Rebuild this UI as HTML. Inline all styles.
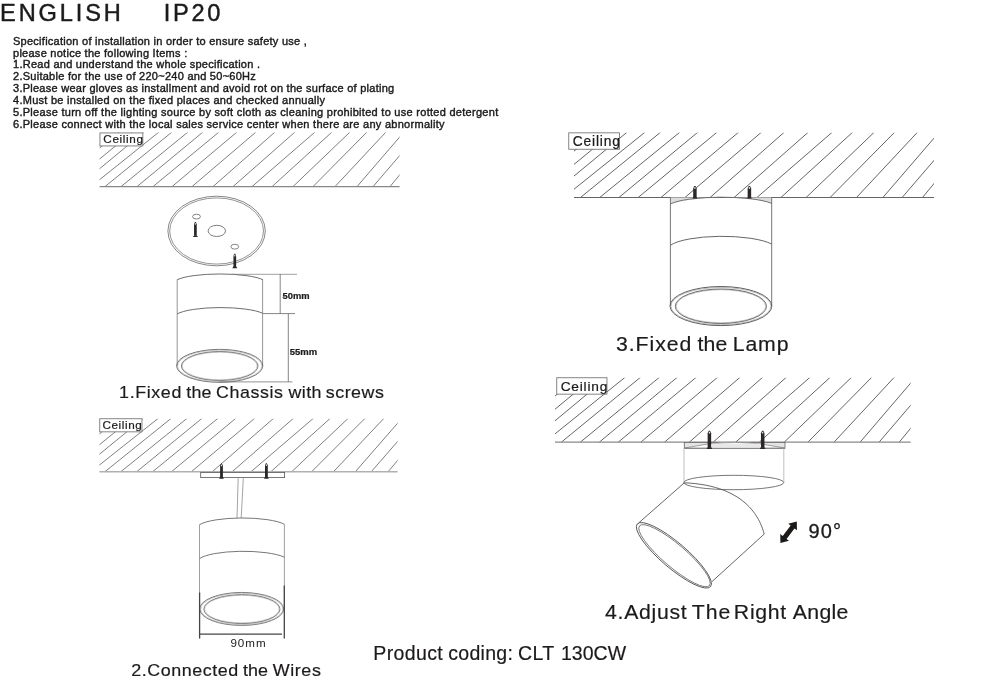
<!DOCTYPE html>
<html><head><meta charset="utf-8"><title>Installation</title>
<style>
html,body{margin:0;padding:0;background:#fff;}
body{width:1000px;height:690px;overflow:hidden;}
svg{display:block;font-family:"Liberation Sans",sans-serif;filter:blur(0.3px);}
svg text{white-space:pre;}
</style></head><body>
<svg width="1000" height="690" viewBox="0 0 1000 690">
<rect width="1000" height="690" fill="#fff"/>
<text x="0.1" y="21.3" font-size="23.6" font-weight="400" fill="#1c1a1a" textLength="120.7" lengthAdjust="spacing" stroke="#1c1a1a" stroke-width="0.45">ENGLISH</text>
<text x="163.8" y="21.4" font-size="23.6" font-weight="400" fill="#1c1a1a" textLength="56.5" lengthAdjust="spacing" stroke="#1c1a1a" stroke-width="0.45">IP20</text>
<text x="13" y="44.6" font-size="11" font-weight="400" fill="#1c1a1a" textLength="293.8" lengthAdjust="spacing" stroke="#1c1a1a" stroke-width="0.4">Specification of installation in order to ensure safety use ,</text>
<text x="13" y="56.5" font-size="11" font-weight="400" fill="#1c1a1a" textLength="174.2" lengthAdjust="spacing" stroke="#1c1a1a" stroke-width="0.4">please notice the following Items :</text>
<text x="13" y="68.4" font-size="11" font-weight="400" fill="#1c1a1a" textLength="247" lengthAdjust="spacing" stroke="#1c1a1a" stroke-width="0.4">1.Read and understand the whole specification .</text>
<text x="13" y="80.3" font-size="11" font-weight="400" fill="#1c1a1a" textLength="242.8" lengthAdjust="spacing" stroke="#1c1a1a" stroke-width="0.4">2.Suitable for the use of 220~240 and 50~60Hz</text>
<text x="13" y="92.2" font-size="11" font-weight="400" fill="#1c1a1a" textLength="381.2" lengthAdjust="spacing" stroke="#1c1a1a" stroke-width="0.4">3.Please wear gloves as installment and avoid rot on the surface of plating</text>
<text x="13" y="104.2" font-size="11" font-weight="400" fill="#1c1a1a" textLength="312" lengthAdjust="spacing" stroke="#1c1a1a" stroke-width="0.4">4.Must be installed on the fixed places and checked annually</text>
<text x="13" y="116.2" font-size="11" font-weight="400" fill="#1c1a1a" textLength="485.2" lengthAdjust="spacing" stroke="#1c1a1a" stroke-width="0.4">5.Please turn off the lighting source by soft cloth as cleaning prohibited to use rotted detergent</text>
<text x="13" y="128.2" font-size="11" font-weight="400" fill="#1c1a1a" textLength="431.6" lengthAdjust="spacing" stroke="#1c1a1a" stroke-width="0.4">6.Please connect with the local sales service center when there are any abnormality</text>
<clipPath id="c1"><rect x="0" y="0.6" width="300" height="54.6"/></clipPath>
<g transform="translate(99.6 132) scale(1.0 1.0)">
<path d="M-47.1 54.6L19.5 0 M-33.6 54.6L32.9 0 M-21.6 54.6L44.4 0 M-8.6 54.6L59.4 0 M5.4 54.6L72.4 0 M21.4 54.6L88.4 0 M37.4 54.6L103.4 0 M53.4 54.6L119.4 0 M72.4 54.6L137.4 0 M92.4 54.6L156.4 0 M113.4 54.6L175.4 0 M133.4 54.6L195.4 0 M152.4 54.6L215.4 0 M172.4 54.6L232.4 0 M193.4 54.6L250.4 0 M213.4 54.6L267.4 0 M235.4 54.6L286.4 0 M257.4 54.6L304.4 0 M273.4 54.6L320.4 0 M290.4 54.6L335.4 0" clip-path="url(#c1)" stroke="#5e5e5e" stroke-width="0.8" fill="none"/>
</g>
<line x1="99.6" y1="186.6" x2="399.6" y2="186.6" stroke="#888" stroke-width="1.3"/>
<rect x="99.95" y="132.95" width="42.9" height="13.0" fill="#fff" stroke="#707070" stroke-width="0.85"/>
<text x="103.3" y="142.9" font-size="11.7" font-weight="400" fill="#1c1a1a" textLength="39.6" lengthAdjust="spacing" stroke="#1c1a1a" stroke-width="0.22">Ceiling</text>
<clipPath id="c2"><rect x="0" y="0.6" width="300" height="54.6"/></clipPath>
<g transform="translate(99.4 418.2) scale(0.994 0.982)">
<path d="M-47.1 54.6L19.5 0 M-33.6 54.6L32.9 0 M-21.6 54.6L44.4 0 M-8.6 54.6L59.4 0 M5.4 54.6L72.4 0 M21.4 54.6L88.4 0 M37.4 54.6L103.4 0 M53.4 54.6L119.4 0 M72.4 54.6L137.4 0 M92.4 54.6L156.4 0 M113.4 54.6L175.4 0 M133.4 54.6L195.4 0 M152.4 54.6L215.4 0 M172.4 54.6L232.4 0 M193.4 54.6L250.4 0 M213.4 54.6L267.4 0 M235.4 54.6L286.4 0 M257.4 54.6L304.4 0 M273.4 54.6L320.4 0 M290.4 54.6L335.4 0" clip-path="url(#c2)" stroke="#5e5e5e" stroke-width="0.8" fill="none"/>
</g>
<line x1="99.4" y1="471.8172" x2="397.6" y2="471.8172" stroke="#b0b0b0" stroke-width="1.5"/>
<rect x="99.75" y="418.75" width="42.2" height="13.1" fill="#fff" stroke="#707070" stroke-width="0.85"/>
<text x="102.4" y="428.7" font-size="11.7" font-weight="400" fill="#1c1a1a" textLength="39.4" lengthAdjust="spacing" stroke="#1c1a1a" stroke-width="0.22">Ceiling</text>
<clipPath id="c3"><rect x="0" y="0.6" width="300" height="54.6"/></clipPath>
<g transform="translate(574 132) scale(1.2 1.2)">
<path d="M-47.1 54.6L19.5 0 M-33.6 54.6L32.9 0 M-21.6 54.6L44.4 0 M-8.6 54.6L59.4 0 M5.4 54.6L72.4 0 M21.4 54.6L88.4 0 M37.4 54.6L103.4 0 M53.4 54.6L119.4 0 M72.4 54.6L137.4 0 M92.4 54.6L156.4 0 M113.4 54.6L175.4 0 M133.4 54.6L195.4 0 M152.4 54.6L215.4 0 M172.4 54.6L232.4 0 M193.4 54.6L250.4 0 M213.4 54.6L267.4 0 M235.4 54.6L286.4 0 M257.4 54.6L304.4 0 M273.4 54.6L320.4 0 M290.4 54.6L335.4 0" clip-path="url(#c3)" stroke="#4c4c4c" stroke-width="0.72" fill="none"/>
</g>
<line x1="574" y1="197.51999999999998" x2="934.0" y2="197.51999999999998" stroke="#666" stroke-width="1.1"/>
<rect x="568.75" y="132.85" width="50.7" height="16.4" fill="#fff" stroke="#707070" stroke-width="0.85"/>
<text x="572.7" y="145.5" font-size="13.8" font-weight="400" fill="#1c1a1a" textLength="47.2" lengthAdjust="spacing" stroke="#1c1a1a" stroke-width="0.22">Ceiling</text>
<clipPath id="c4"><rect x="0" y="0.6" width="300" height="54.6"/></clipPath>
<g transform="translate(555 377) scale(1.1855 1.193)">
<path d="M-47.1 54.6L19.5 0 M-33.6 54.6L32.9 0 M-21.6 54.6L44.4 0 M-8.6 54.6L59.4 0 M5.4 54.6L72.4 0 M21.4 54.6L88.4 0 M37.4 54.6L103.4 0 M53.4 54.6L119.4 0 M72.4 54.6L137.4 0 M92.4 54.6L156.4 0 M113.4 54.6L175.4 0 M133.4 54.6L195.4 0 M152.4 54.6L215.4 0 M172.4 54.6L232.4 0 M193.4 54.6L250.4 0 M213.4 54.6L267.4 0 M235.4 54.6L286.4 0 M257.4 54.6L304.4 0 M273.4 54.6L320.4 0 M290.4 54.6L335.4 0" clip-path="url(#c4)" stroke="#4c4c4c" stroke-width="0.72" fill="none"/>
</g>
<line x1="555" y1="442.13779999999997" x2="910.65" y2="442.13779999999997" stroke="#8a8a8a" stroke-width="1.25"/>
<rect x="556.75" y="377.75" width="50.2" height="16.4" fill="#fff" stroke="#707070" stroke-width="0.85"/>
<text x="560.7" y="390.6" font-size="13.7" font-weight="400" fill="#1c1a1a" textLength="46.6" lengthAdjust="spacing" stroke="#1c1a1a" stroke-width="0.22">Ceiling</text>
<text transform="translate(119.1 398.4) scale(1.05 1)" font-size="17.0" fill="#1c1a1a" stroke="#1c1a1a" stroke-width="0.18" textLength="59.29" lengthAdjust="spacing">1.Fixed</text>
<text transform="translate(186.26 398.4) scale(1.05 1)" font-size="17.0" fill="#1c1a1a" stroke="#1c1a1a" stroke-width="0.18" textLength="24.05" lengthAdjust="spacing">the</text>
<text transform="translate(216.11 398.4) scale(1.05 1)" font-size="17.0" fill="#1c1a1a" stroke="#1c1a1a" stroke-width="0.18" textLength="63.54" lengthAdjust="spacing">Chassis</text>
<text transform="translate(288.46 398.4) scale(1.05 1)" font-size="17.0" fill="#1c1a1a" stroke="#1c1a1a" stroke-width="0.18" textLength="31.51" lengthAdjust="spacing">with</text>
<text transform="translate(325.73 398.4) scale(1.05 1)" font-size="17.0" fill="#1c1a1a" stroke="#1c1a1a" stroke-width="0.18" textLength="55.45" lengthAdjust="spacing">screws</text>
<text transform="translate(131.28 676.1) scale(1.12 1)" font-size="16.0" fill="#1c1a1a" stroke="#1c1a1a" stroke-width="0.18" textLength="95.37" lengthAdjust="spacing">2.Connected</text>
<text transform="translate(243.05 676.1) scale(1.12 1)" font-size="16.0" fill="#1c1a1a" stroke="#1c1a1a" stroke-width="0.18" textLength="22.22" lengthAdjust="spacing">the</text>
<text transform="translate(272.74 676.1) scale(1.12 1)" font-size="16.0" fill="#1c1a1a" stroke="#1c1a1a" stroke-width="0.18" textLength="42.96" lengthAdjust="spacing">Wires</text>
<text transform="translate(615.96 351.0) scale(1.09 1)" font-size="19.5" fill="#1c1a1a" stroke="#1c1a1a" stroke-width="0.18" textLength="69.16" lengthAdjust="spacing">3.Fixed</text>
<text transform="translate(697.56 351.0) scale(1.09 1)" font-size="19.5" fill="#1c1a1a" stroke="#1c1a1a" stroke-width="0.18" textLength="27.29" lengthAdjust="spacing">the</text>
<text transform="translate(732.77 351.0) scale(1.09 1)" font-size="19.5" fill="#1c1a1a" stroke="#1c1a1a" stroke-width="0.18" textLength="51.11" lengthAdjust="spacing">Lamp</text>
<text transform="translate(605.06 619.4) scale(1.09 1)" font-size="19.5" fill="#1c1a1a" stroke="#1c1a1a" stroke-width="0.18" textLength="74.92" lengthAdjust="spacing">4.Adjust</text>
<text transform="translate(691.81 619.4) scale(1.09 1)" font-size="19.5" fill="#1c1a1a" stroke="#1c1a1a" stroke-width="0.18" textLength="35.29" lengthAdjust="spacing">The</text>
<text transform="translate(733.84 619.4) scale(1.09 1)" font-size="19.5" fill="#1c1a1a" stroke="#1c1a1a" stroke-width="0.18" textLength="48.1" lengthAdjust="spacing">Right</text>
<text transform="translate(792.83 619.4) scale(1.09 1)" font-size="19.5" fill="#1c1a1a" stroke="#1c1a1a" stroke-width="0.18" textLength="50.94" lengthAdjust="spacing">Angle</text>
<text transform="translate(373.24 660.2) scale(1.0 1)" font-size="19.5" fill="#1c1a1a" stroke="#1c1a1a" stroke-width="0.18" textLength="69.53" lengthAdjust="spacing">Product</text>
<text transform="translate(448.2 660.2) scale(1.0 1)" font-size="19.5" fill="#1c1a1a" stroke="#1c1a1a" stroke-width="0.18" textLength="64.73" lengthAdjust="spacing">coding:</text>
<text transform="translate(518.11 660.2) scale(1.0 1)" font-size="19.5" fill="#1c1a1a" stroke="#1c1a1a" stroke-width="0.18" textLength="35.99" lengthAdjust="spacing">CLT</text>
<text transform="translate(560.91 660.2) scale(1.0 1)" font-size="19.5" fill="#1c1a1a" stroke="#1c1a1a" stroke-width="0.18" textLength="65.2" lengthAdjust="spacing">130CW</text>
<text x="808.4" y="538.2" font-size="20" font-weight="400" fill="#1c1a1a" textLength="32.6" lengthAdjust="spacing" stroke="#1c1a1a" stroke-width="0.3">90°</text>
<text x="230.4" y="647.4" font-size="11.6" font-weight="400" fill="#1c1a1a" textLength="35.2" lengthAdjust="spacing" >90mm</text>
<text x="282.6" y="299.0" font-size="8.3" font-weight="700" fill="#1c1a1a" textLength="27.0" lengthAdjust="spacingAndGlyphs" stroke="#1c1a1a" stroke-width="0.2">50mm</text>
<text x="289.8" y="355.1" font-size="8.3" font-weight="700" fill="#1c1a1a" textLength="27.4" lengthAdjust="spacingAndGlyphs" stroke="#1c1a1a" stroke-width="0.2">55mm</text>
<ellipse cx="216.6" cy="231" rx="48.7" ry="34.8" fill="none" stroke="#555" stroke-width="0.7"/>
<ellipse cx="216.6" cy="231" rx="46.9" ry="33.1" fill="none" stroke="#666" stroke-width="0.7"/>
<ellipse cx="216.8" cy="230.9" rx="8.7" ry="5.6" fill="none" stroke="#5e5e5e" stroke-width="0.8"/>
<ellipse cx="196.5" cy="216.6" rx="3.9" ry="2.4" fill="none" stroke="#666" stroke-width="0.8"/>
<ellipse cx="234.8" cy="246.7" rx="3.9" ry="2.4" fill="none" stroke="#666" stroke-width="0.8"/>
<path d="M194.05 235.8 L194.05 224.3 L194.91400000000002 221.9 L195.886 221.9 L196.75 224.3 L196.75 235.8 Z" fill="#2b2727"/>
<path d="M194.05 235.4 L192.8 237.0 L198.0 237.0 L196.75 235.4 Z" fill="#2b2727"/>
<ellipse cx="195.4" cy="223.9" rx="0.5599999999999999" ry="0.84" fill="#eee"/>
<path d="M233.45000000000002 267.0 L233.45000000000002 256.09999999999997 L234.31400000000002 253.7 L235.286 253.7 L236.15 256.09999999999997 L236.15 267.0 Z" fill="#2b2727"/>
<path d="M233.45000000000002 266.59999999999997 L232.20000000000002 268.2 L237.4 268.2 L236.15 266.59999999999997 Z" fill="#2b2727"/>
<ellipse cx="234.8" cy="255.7" rx="0.5599999999999999" ry="0.84" fill="#eee"/>
<path d="M177.1 279.8 A46.39 9.35 0 0 1 263 279.8" fill="none" stroke="#5e5e5e" stroke-width="0.9"/>
<path d="M177.1 314 A46.39 9.84 0 0 1 263 313.4" fill="none" stroke="#5e5e5e" stroke-width="0.9"/>
<line x1="177.2" y1="279.8" x2="177.2" y2="366" stroke="#7a7a7a" stroke-width="0.8"/>
<line x1="262.6" y1="279.8" x2="262.6" y2="366" stroke="#7a7a7a" stroke-width="0.8"/>
<ellipse cx="219.7" cy="365.85" rx="43.1" ry="16.5" fill="none" stroke="#5e5e5e" stroke-width="0.85"/>
<ellipse cx="219.7" cy="365.9" rx="42.2" ry="15.7" fill="none" stroke="#999" stroke-width="0.55"/>
<ellipse cx="219.7" cy="366.0" rx="37.5" ry="13.8" fill="none" stroke="#999" stroke-width="0.55"/>
<ellipse cx="219.7" cy="366.0" rx="38.35" ry="14.5" fill="none" stroke="#666" stroke-width="0.8"/>
<line x1="232" y1="274.3" x2="297" y2="274.3" stroke="#808080" stroke-width="0.75"/>
<line x1="263" y1="313.6" x2="295" y2="313.6" stroke="#666" stroke-width="0.8"/>
<line x1="219" y1="381.9" x2="292.5" y2="381.9" stroke="#777" stroke-width="0.8"/>
<line x1="280.2" y1="274" x2="280.2" y2="313.6" stroke="#666" stroke-width="0.8"/>
<line x1="288.3" y1="313.6" x2="288.3" y2="381.9" stroke="#666" stroke-width="0.8"/>
<rect x="200.7" y="472.5" width="83.9" height="5.1" fill="#fff" stroke="#555" stroke-width="0.8"/>
<path d="M220.1 477.5 L220.1 465.79999999999995 L220.996 463.4 L222.004 463.4 L222.9 465.79999999999995 L222.9 477.5 Z" fill="#2b2727"/>
<path d="M220.1 477.09999999999997 L219.1 478.7 L223.9 478.7 L222.9 477.09999999999997 Z" fill="#2b2727"/>
<ellipse cx="221.5" cy="465.4" rx="0.5599999999999999" ry="0.84" fill="#eee"/>
<path d="M265.0 477.5 L265.0 465.59999999999997 L265.89599999999996 463.2 L266.904 463.2 L267.79999999999995 465.59999999999997 L267.79999999999995 477.5 Z" fill="#2b2727"/>
<path d="M265.0 477.09999999999997 L264.0 478.7 L268.79999999999995 478.7 L267.79999999999995 477.09999999999997 Z" fill="#2b2727"/>
<ellipse cx="266.4" cy="465.2" rx="0.5599999999999999" ry="0.84" fill="#eee"/>
<line x1="238.2" y1="478.2" x2="237" y2="518" stroke="#999" stroke-width="0.9"/>
<line x1="243.3" y1="478.2" x2="241.2" y2="518" stroke="#999" stroke-width="0.9"/>
<path d="M199.5 524.7 A45.85 10.48 0 0 1 284.4 524.3" fill="none" stroke="#666" stroke-width="0.9"/>
<path d="M199.5 558.7 A45.85 10.56 0 0 1 284.4 557.2" fill="none" stroke="#666" stroke-width="0.9"/>
<line x1="199.5" y1="524.7" x2="199.5" y2="609" stroke="#888" stroke-width="0.8"/>
<line x1="284.4" y1="524.3" x2="284.4" y2="609" stroke="#888" stroke-width="0.8"/>
<ellipse cx="241.7" cy="608.95" rx="42.0" ry="16.5" fill="none" stroke="#666" stroke-width="0.85"/>
<ellipse cx="241.7" cy="609.0" rx="41.1" ry="15.7" fill="none" stroke="#999" stroke-width="0.55"/>
<ellipse cx="241.9" cy="609.1" rx="37.3" ry="13.8" fill="none" stroke="#999" stroke-width="0.55"/>
<ellipse cx="241.9" cy="609.1" rx="38.1" ry="14.5" fill="none" stroke="#6a6a6a" stroke-width="0.8"/>
<line x1="199.6" y1="592.5" x2="199.6" y2="638.6" stroke="#444" stroke-width="1.3"/>
<line x1="284.3" y1="585.6" x2="284.3" y2="638.6" stroke="#444" stroke-width="1.3"/>
<line x1="199.6" y1="634.1" x2="282" y2="634.1" stroke="#444" stroke-width="1.2"/>
<path d="M670.4 197.6 L721 197.6 Q690 198.2 670.4 204 Z" fill="#ddd"/>
<path d="M771.7 197.6 L721 197.6 Q752 198.2 771.7 203.4 Z" fill="#ddd"/>
<path d="M670.4 204 A54.70 10.48 0 0 1 771.7 203.4" fill="none" stroke="#666" stroke-width="0.9"/>
<path d="M670.4 245.3 A54.70 13.39 0 0 1 771.7 244.1" fill="none" stroke="#555" stroke-width="0.9"/>
<line x1="670.4" y1="197.5" x2="670.4" y2="306" stroke="#666" stroke-width="0.9"/>
<line x1="771.7" y1="197.5" x2="771.7" y2="306" stroke="#666" stroke-width="0.9"/>
<ellipse cx="720.9" cy="306.05" rx="50.9" ry="19.55" fill="none" stroke="#555" stroke-width="0.95"/>
<ellipse cx="720.9" cy="306.1" rx="50.0" ry="18.6" fill="none" stroke="#888" stroke-width="0.55"/>
<ellipse cx="720.9" cy="306.25" rx="44.7" ry="16.5" fill="none" stroke="#999" stroke-width="0.55"/>
<ellipse cx="720.9" cy="306.25" rx="45.6" ry="17.25" fill="none" stroke="#606060" stroke-width="0.9"/>
<path d="M693.15 197.4 L693.15 188.4 L694.27 186.0 L695.53 186.0 L696.65 188.4 L696.65 197.4 Z" fill="#2b2727"/>
<path d="M693.15 197.0 L692.6999999999999 198.6 L697.1 198.6 L696.65 197.0 Z" fill="#2b2727"/>
<ellipse cx="694.9" cy="188.0" rx="0.7200000000000001" ry="1.08" fill="#eee"/>
<path d="M747.65 197.4 L747.65 188.4 L748.77 186.0 L750.03 186.0 L751.15 188.4 L751.15 197.4 Z" fill="#2b2727"/>
<path d="M747.65 197.0 L747.1999999999999 198.6 L751.6 198.6 L751.15 197.0 Z" fill="#2b2727"/>
<ellipse cx="749.4" cy="188.0" rx="0.7200000000000001" ry="1.08" fill="#eee"/>
<rect x="684.3" y="442.4" width="100.7" height="5.9" fill="#e4e4e4" stroke="#666" stroke-width="0.8"/>
<path d="M684.6 448 Q734.5 436.6 784.7 448 Z" fill="#fff" stroke="#777" stroke-width="0.7"/>
<rect x="712" y="443.6" width="48" height="4" fill="#e8e8e8"/>
<line x1="684" y1="448.3" x2="684" y2="482.4" stroke="#b0b0b0" stroke-width="0.8"/>
<line x1="783.8" y1="448.3" x2="783.8" y2="482.4" stroke="#b0b0b0" stroke-width="0.8"/>
<ellipse cx="733.8" cy="482.5" rx="49.9" ry="7.2" fill="none" stroke="#666" stroke-width="0.9"/>
<path d="M707.65 447.7 L707.65 433.2 L708.77 430.8 L710.03 430.8 L711.15 433.2 L711.15 447.7 Z" fill="#2b2727"/>
<path d="M707.65 447.29999999999995 L706.5 448.9 L712.3 448.9 L711.15 447.29999999999995 Z" fill="#2b2727"/>
<ellipse cx="709.4" cy="432.8" rx="0.6400000000000001" ry="0.96" fill="#eee"/>
<path d="M760.95 447.7 L760.95 433.2 L762.07 430.8 L763.33 430.8 L764.45 433.2 L764.45 447.7 Z" fill="#2b2727"/>
<path d="M760.95 447.29999999999995 L759.8000000000001 448.9 L765.6 448.9 L764.45 447.29999999999995 Z" fill="#2b2727"/>
<ellipse cx="762.7" cy="432.8" rx="0.6400000000000001" ry="0.96" fill="#eee"/>
<line x1="684.3" y1="482.8" x2="638.6" y2="523.0" stroke="#555" stroke-width="0.9"/>
<line x1="764.2" y1="534.1" x2="712.0" y2="581.6" stroke="#555" stroke-width="0.9"/>
<path d="M684.3 482.8 C748.95 485.4 761.0 522.1 764.2 534.1" fill="none" stroke="#555" stroke-width="0.9"/>
<ellipse cx="673.9" cy="555.3" rx="48.2" ry="12.7" fill="none" stroke="#555" stroke-width="0.9" transform="rotate(40.5 673.9 555.3)"/>
<ellipse cx="674.5" cy="555.7" rx="46.0" ry="11.3" fill="none" stroke="#666" stroke-width="0.8" transform="rotate(40.5 674.5 555.7)"/>
<path d="M0 0 L7.0 -5.5 L7.0 -2.4 L20.120471972294293 -2.4 L20.120471972294293 -5.5 L27.120471972294293 0 L20.120471972294293 5.5 L20.120471972294293 2.4 L7.0 2.4 L7.0 5.5 Z" fill="#1d1919" transform="translate(780.4 543.0) rotate(-52.79207807821851)"/>
</svg>
</body></html>
